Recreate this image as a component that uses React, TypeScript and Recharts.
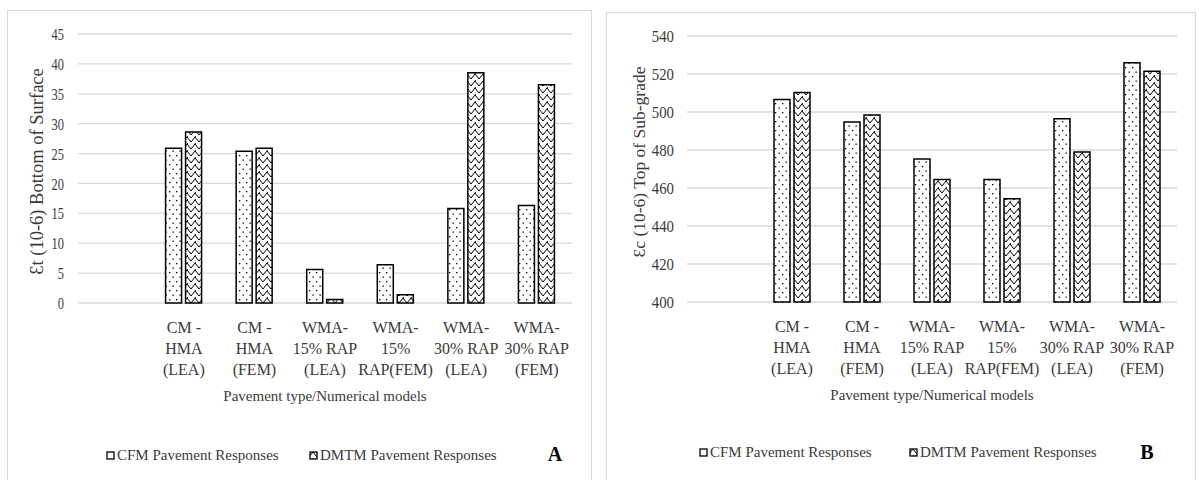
import React from 'react';
import { BarChart, Bar, XAxis, YAxis, CartesianGrid } from 'recharts';

// x categories (first slot is empty in the original figure)
const CATEGORIES = [
  '',
  'CM -\nHMA\n(LEA)',
  'CM -\nHMA\n(FEM)',
  'WMA-\n15% RAP\n(LEA)',
  'WMA-\n15%\nRAP(FEM)',
  'WMA-\n30% RAP\n(LEA)',
  'WMA-\n30% RAP\n(FEM)',
];

// panel A: tensile strain at bottom of surface
const CFM_A = [null, 25.9, 25.4, 5.6, 6.4, 15.8, 16.3];
const DMTM_A = [null, 28.6, 25.9, 0.6, 1.4, 38.5, 36.5];
const TICKS_A = [0, 5, 10, 15, 20, 25, 30, 35, 40, 45];

// panel B: compressive strain at top of sub-grade
const CFM_B = [null, 506.6, 494.8, 475.3, 464.5, 496.4, 525.9];
const DMTM_B = [null, 510.3, 498.4, 464.5, 454.3, 479.0, 521.5];
const TICKS_B = [400, 420, 440, 460, 480, 500, 520, 540];

const SERIES_NAMES = ['CFM Pavement Responses', 'DMTM Pavement Responses'];

const FONT = '"Liberation Serif", "Times New Roman", serif';
const TEXT = '#3a3a3a';
const GRID = '#d9d9d9';

const buildRows = (cfm: (number | null)[], dmtm: (number | null)[]) =>
  CATEGORIES.map((name, i) => ({ name, cfm: cfm[i], dmtm: dmtm[i] }));

const Patterns = () => (
  <svg width={0} height={0} style={{ position: 'absolute' }}>
    <defs>
      <pattern id="dots" patternUnits="userSpaceOnUse" width={7} height={9}>
        <rect width={7} height={9} fill="#fff" />
        <rect x={1} y={1} width={1.3} height={1.3} fill="#000" />
        <rect x={4.5} y={5.5} width={1.3} height={1.3} fill="#000" />
      </pattern>
      <pattern id="zigzag" patternUnits="userSpaceOnUse" width={8} height={7}>
        <rect width={8} height={7} fill="#fff" />
        <path d="M0,6 L4,1 L8,6" stroke="#000" strokeWidth={1} fill="none" />
        <path d="M4,1 L5,-0.5" stroke="#000" strokeWidth={1} fill="none" />
      </pattern>
    </defs>
  </svg>
);

const CategoryTick = ({ x, y, payload }: any) => {
  const lines = String(payload.value).split('\n');
  if (!payload.value) return null;
  return (
    <text x={x} y={y} textAnchor="middle" fontFamily={FONT} fontSize={16} fill={TEXT}>
      {lines.map((l, i) => (
        <tspan key={i} x={x} dy={i === 0 ? 30 : 21}>{l}</tspan>
      ))}
    </text>
  );
};

// the source image is stretched vertically, so tick digits are narrow and tall
const valueTick = (sx: number) => ({ x, y, payload }: any) => (
  <text transform={`translate(${x},${y}) scale(${sx},1)`} textAnchor="end" dy="0.36em"
    fontFamily={FONT} fontSize={17} fill={TEXT}>
    {payload.value}
  </text>
);

const yTitle = (text: string, dx: number, dy: number, size: number) => (props: any) => {
  const { viewBox } = props;
  const cx = viewBox.x + dx;
  const cy = viewBox.y + viewBox.height / 2 + dy;
  return (
    <text x={cx} y={cy} transform={`rotate(-90 ${cx} ${cy})`} textAnchor="middle"
      dominantBaseline="central" fontFamily={FONT} fontSize={size} fill={TEXT}>
      {text}
    </text>
  );
};

const xTitle = (text: string) => (props: any) => {
  const { viewBox } = props;
  return (
    <text x={viewBox.x + viewBox.width / 2} y={viewBox.y + 98} textAnchor="middle"
      fontFamily={FONT} fontSize={15} fill={TEXT}>
      {text}
    </text>
  );
};

interface PanelProps {
  left: number;
  top: number;
  width: number;
  height: number;
  cfm: (number | null)[];
  dmtm: (number | null)[];
  ticks: number[];
  yLabel: string;
  yAxisWidth: number;
  marginRight: number;
  titleDx: number;
  titleDy: number;
  titleSize: number;
  tickMargin: number;
  tickScale: number;
  legendX: [number, number];
  legendY: number;
  letter: string;
  letterPos: [number, number];
}

const LegendIcon = ({ fill }: { fill: string }) => (
  <svg width={9} height={9} style={{ marginRight: 2 }}>
    <rect x={1} y={1} width={7} height={7} fill={fill} stroke="#000" strokeWidth={1.3} />
  </svg>
);

const Panel = (p: PanelProps) => {
  const rows = buildRows(p.cfm, p.dmtm);
  return (
    <>
      <div style={{ position: 'absolute', left: p.left, top: p.top, width: p.width, height: 480 - p.top + 5,
        border: `1px solid ${GRID}`, boxSizing: 'border-box' }} />
      <div style={{ position: 'absolute', left: p.left, top: p.top }}>
        <BarChart width={p.width} height={p.height} data={rows}
          margin={{ top: 24, right: p.marginRight, left: 0, bottom: 0 }}
          barSize={16} barGap={4}>
          <CartesianGrid vertical={false} stroke={GRID} strokeWidth={1.3} />
          <XAxis dataKey="name" interval={0} axisLine={false} tickLine={false} tickSize={0} tickMargin={0}
            height={110} tick={<CategoryTick />} label={xTitle('Pavement type/Numerical models')} />
          <YAxis domain={[p.ticks[0], p.ticks[p.ticks.length - 1]]} ticks={p.ticks} interval={0}
            width={p.yAxisWidth} axisLine={false} tickLine={false} tickSize={0} tickMargin={p.tickMargin}
            tick={valueTick(p.tickScale)}
            label={yTitle(p.yLabel, p.titleDx, p.titleDy, p.titleSize)} />
          <Bar dataKey="cfm" name={SERIES_NAMES[0]} fill="url(#dots)" stroke="#000" strokeWidth={1.5}
            isAnimationActive={false} />
          <Bar dataKey="dmtm" name={SERIES_NAMES[1]} fill="url(#zigzag)" stroke="#000" strokeWidth={1.5}
            isAnimationActive={false} />
        </BarChart>
      </div>
      {SERIES_NAMES.map((name, i) => (
        <div key={name} style={{ position: 'absolute', left: p.legendX[i], top: p.legendY - 9,
          display: 'flex', alignItems: 'center', fontFamily: FONT, fontSize: 15, color: TEXT,
          whiteSpace: 'nowrap', height: 18 }}>
          <LegendIcon fill={i === 0 ? '#fff' : 'url(#zigzag)'} />
          {name}
        </div>
      ))}
      <div style={{ position: 'absolute', left: p.letterPos[0] - 10, top: p.letterPos[1] - 12, width: 20,
        textAlign: 'center', fontFamily: FONT, fontWeight: 'bold', fontSize: 20, color: '#000', lineHeight: '24px' }}>
        {p.letter}
      </div>
    </>
  );
};

export default function App() {
  return (
    <div style={{ position: 'absolute', left: 0, top: 0, width: 1199, height: 480, background: '#fff', overflow: 'hidden' }}>
      <Patterns />
      <Panel left={7} top={10} width={585} height={403} cfm={CFM_A} dmtm={DMTM_A} ticks={TICKS_A}
        yLabel="Ɛt (10-6) Bottom of Surface" yAxisWidth={71} marginRight={20} titleDx={30} titleDy={3}
        titleSize={18.5} tickMargin={14} tickScale={0.73}
        legendX={[106, 309]} legendY={455} letter="A" letterPos={[555, 454]} />
      <Panel left={606} top={12} width={590} height={400} cfm={CFM_B} dmtm={DMTM_B} ticks={TICKS_B}
        yLabel="Ɛc (10-6) Top of Sub-grade" yAxisWidth={81} marginRight={19} titleDx={33} titleDy={-7}
        titleSize={17.5} tickMargin={13} tickScale={0.87}
        legendX={[699, 909]} legendY={452} letter="B" letterPos={[1147, 452]} />
    </div>
  );
}
